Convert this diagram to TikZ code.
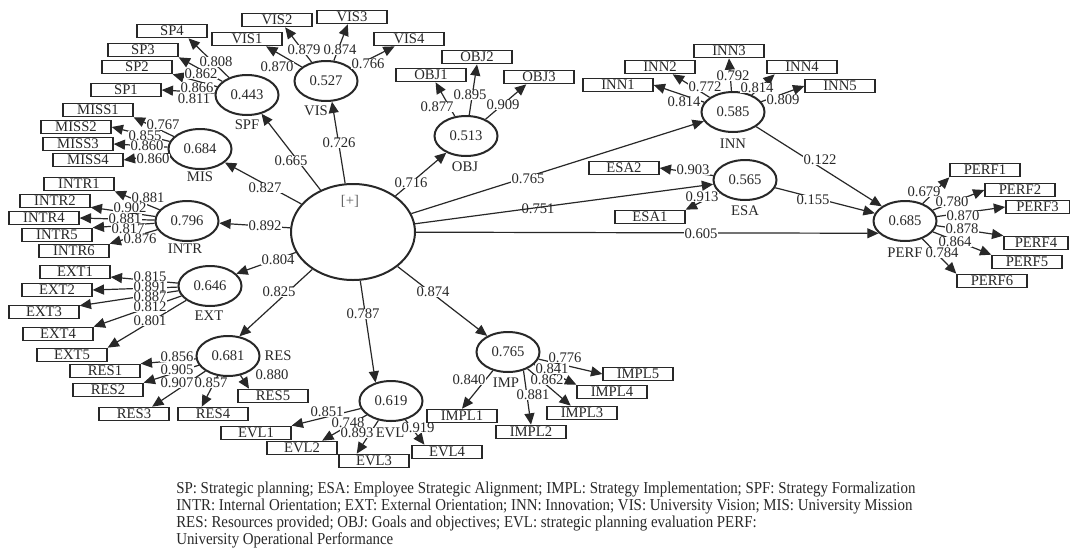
\documentclass[tikz,border=0pt]{standalone}
\usepackage{fontspec}
\setmainfont{Liberation Serif}
\usetikzlibrary{shapes.geometric,arrows.meta}
\definecolor{ink}{RGB}{40,40,40}
\definecolor{plusgray}{RGB}{100,100,100}
\begin{document}
\begin{tikzpicture}[x=0.75pt,y=-0.75pt,
  font=\fontsize{11}{13}\selectfont, text=ink,
  lat/.style={ellipse, draw=ink, line width=1.5pt, minimum width=47.25pt, minimum height=30pt, inner sep=0pt},
  cent/.style={ellipse, draw=ink, line width=1.5pt, minimum width=93pt, minimum height=72pt, inner sep=0pt},
  ind/.style={rectangle, draw=ink, line width=1pt, minimum width=52.5pt, minimum height=10pt, inner sep=0pt},
  arr/.style={draw=ink, line width=0.9pt, -{Triangle[length=8.5pt,width=7.5pt]}},
  lbl/.style={fill=white, inner sep=0.2pt},
  nolbl/.style={inner sep=0.2pt},
  nm/.style={inner sep=0pt}]
\fill[white] (0,0) rectangle (1070,557);
\useasboundingbox (0,0) rectangle (1070,557);

% central and latent constructs
\node[cent] (sp) at (353,232) {};
\node[nm, text=plusgray] (plus) at (350,201) {[+]};
\node[lat] (spf) at (247,95) {0.443};
\node[lat] (vis) at (326,81) {0.527};
\node[lat] (obj) at (466,136) {0.513};
\node[lat] (mis) at (200,149) {0.684};
\node[lat] (intr) at (187,221) {0.796};
\node[lat] (ext) at (210,286) {0.646};
\node[lat] (res) at (228,356) {0.681};
\node[lat] (evl) at (391,401) {0.619};
\node[lat] (imp) at (508,352) {0.765};
\node[lat] (inn) at (733,112) {0.585};
\node[lat] (esa) at (745,180) {0.565};
\node[lat] (perf) at (905,221) {0.685};

% construct names
\node[nm] (spfn) at (247,125) {SPF};
\node[nm] (visn) at (316,111) {VIS};
\node[nm] (objn) at (465,167) {OBJ};
\node[nm] (misn) at (200,177) {MIS};
\node[nm] (intrn) at (185,249) {INTR};
\node[nm] (extn) at (209,316) {EXT};
\node[nm] (resn) at (278,356) {RES};
\node[nm] (evln) at (390,433) {EVL};
\node[nm] (impn) at (506,383) {IMP};
\node[nm] (innn) at (733,144) {INN};
\node[nm] (esan) at (745,211) {ESA};
\node[nm] (perfn) at (905,253) {PERF};

% indicators
\node[ind] (sp1) at (126,90) {SP1};
\node[ind] (sp2) at (137,67) {SP2};
\node[ind] (sp3) at (143,50) {SP3};
\node[ind] (sp4) at (172,31) {SP4};
\node[ind] (vis1) at (247,39) {VIS1};
\node[ind] (vis2) at (277,20) {VIS2};
\node[ind] (vis3) at (352,17) {VIS3};
\node[ind] (vis4) at (409,39) {VIS4};
\node[ind] (obj1) at (431,75) {OBJ1};
\node[ind] (obj2) at (477,57) {OBJ2};
\node[ind] (obj3) at (539,77) {OBJ3};
\node[ind] (miss1) at (98,110) {MISS1};
\node[ind] (miss2) at (76,127) {MISS2};
\node[ind] (miss3) at (78,144) {MISS3};
\node[ind] (miss4) at (88,160) {MISS4};
\node[ind] (intr1) at (79,184) {INTR1};
\node[ind] (intr2) at (55,201) {INTR2};
\node[ind] (intr4) at (44,218) {INTR4};
\node[ind] (intr5) at (57,235) {INTR5};
\node[ind] (intr6) at (74,251) {INTR6};
\node[ind] (ext1) at (75,272) {EXT1};
\node[ind] (ext2) at (57,290) {EXT2};
\node[ind] (ext3) at (44,312) {EXT3};
\node[ind] (ext4) at (58,334) {EXT4};
\node[ind] (ext5) at (72,355) {EXT5};
\node[ind] (res1) at (105,371) {RES1};
\node[ind] (res2) at (108,390) {RES2};
\node[ind] (res3) at (134,414) {RES3};
\node[ind] (res4) at (213,414) {RES4};
\node[ind] (res5) at (273,396) {RES5};
\node[ind] (evl1) at (256,433) {EVL1};
\node[ind] (evl2) at (302,448) {EVL2};
\node[ind] (evl3) at (374,461) {EVL3};
\node[ind] (evl4) at (447,452) {EVL4};
\node[ind] (impl1) at (462,416) {IMPL1};
\node[ind] (impl2) at (531,432) {IMPL2};
\node[ind] (impl3) at (582,413) {IMPL3};
\node[ind] (impl4) at (612,392) {IMPL4};
\node[ind] (impl5) at (638,374) {IMPL5};
\node[ind] (inn1) at (618,85) {INN1};
\node[ind] (inn2) at (660,67) {INN2};
\node[ind] (inn3) at (729,51) {INN3};
\node[ind] (inn4) at (802,67) {INN4};
\node[ind] (inn5) at (840,86) {INN5};
\node[ind] (esa1) at (650,217) {ESA1};
\node[ind] (esa2) at (624,168) {ESA2};
\node[ind] (perf1) at (985,170) {PERF1};
\node[ind] (perf2) at (1020,190) {PERF2};
\node[ind, minimum width=47.5pt] (perf3) at (1037.5,207) {PERF3};
\node[ind, minimum width=48pt] (perf4) at (1036,243) {PERF4};
\node[ind] (perf5) at (1027,262) {PERF5};
\node[ind] (perf6) at (992,281) {PERF6};

% structural paths
\draw[arr] (sp) -- (spf);
\draw[arr] (sp) -- (vis.-74);
\draw[arr] (sp) -- (obj);
\draw[arr] (sp) -- (mis);
\draw[arr] (sp) -- (intr);
\draw[arr] (sp) -- (ext.25);
\draw[arr] (sp) -- (res.60);
\draw[arr] (sp) -- (evl.130);
\draw[arr] (sp) -- (imp);
\draw[arr] (sp) -- (inn);
\draw[arr] (sp) -- (perf.205);
\draw[arr] (inn) -- (perf);
\draw[arr] (esa) -- (perf);

% measurement paths
\draw[arr] (spf) -- (sp4.-24);
\draw[arr] (spf) -- (sp3.south east);
\draw[arr] (spf) -- (sp2.south east);
\draw[arr] (spf) -- (sp1.east);
\draw[arr] (mis) -- (miss1.south east);
\draw[arr] (mis) -- (miss2.east);
\draw[arr] (mis) -- (miss3.east);
\draw[arr] (mis) -- (miss4.east);
\draw[arr] (vis) -- (vis1.-21);
\draw[arr] (vis) -- (vis2.-42);
\draw[arr] (vis) -- (vis3.-120);
\draw[arr] (vis) -- (vis4.-153);
\draw[arr] (obj) -- (obj1.-58);
\draw[arr] (obj) -- (obj2.south);
\draw[arr] (obj) -- (obj3.-150);
\draw[arr] (inn) -- (inn1.east);
\draw[arr] (inn) -- (inn2.-30);
\draw[arr] (inn) -- (inn3.south);
\draw[arr] (inn) -- (inn4.-165);
\draw[arr] (inn) -- (inn5.west);
\draw[arr] (esa) -- (esa2.east);
\draw[arr] (esa) -- (esa1.north east);
\draw[arr] (perf) -- (perf1.south west);
\draw[arr] (perf) -- (perf2.west);
\draw[arr] (perf) -- (perf3.west);
\draw[arr] (perf) -- (perf4.north west);
\draw[arr] (perf) -- (perf5.north west);
\draw[arr] (perf) -- (perf6.north west);
\draw[arr] (intr) -- (intr1.south east);
\draw[arr] (intr) -- (intr2.-10);
\draw[arr] (intr) -- (intr4.east);
\draw[arr] (intr) -- (intr5.north east);
\draw[arr] (intr) -- (intr6.north east);
\draw[arr] (ext) -- (ext1.-8);
\draw[arr] (ext) -- (ext2.east);
\draw[arr] (ext) -- (ext3.10);
\draw[arr] (ext) -- (ext4.north east);
\draw[arr] (ext) -- (ext5.north east);
\draw[arr] (res) -- (res1.north east);
\draw[arr] (res) -- (res2.north east);
\draw[arr] (res) -- (res3.22);
\draw[arr] (res) -- (res4.147);
\draw[arr] (res) -- (res5.163);
\draw[arr] (evl) -- (evl1.north east);
\draw[arr] (evl) -- (evl2.20);
\draw[arr] (evl) -- (evl3.157);
\draw[arr] (evl) -- (evl4.162);
\draw[arr] (imp) -- (impl1.north);
\draw[arr] (imp.-50) -- (impl2.north);
\draw[arr] (imp) -- (impl3.147);
\draw[arr] (imp) -- (impl4.north west);
\draw[arr] (imp) -- (impl5.west);

% path coefficient labels
\node[lbl] (lspf) at (291,161) {0.665};
\node[lbl] (lvis) at (339,143) {0.726};
\node[lbl] (lobj) at (411,183) {0.716};
\node[lbl] (lmis) at (265,188) {0.827};
\node[lbl] (lintr) at (265,226) {0.892};
\node[lbl] (lext) at (278,260) {0.804};
\node[lbl] (lres) at (279,292) {0.825};
\node[lbl] (levl) at (363,314) {0.787};
\node[lbl] (limp) at (433,292) {0.874};
\node[lbl] (linn) at (528,179) {0.765};
\node[lbl] (lperf) at (701,234) {0.605};
\node[lbl] (linnp) at (820,160) {0.122};
\node[lbl] (lesap) at (813,200) {0.155};

% loading labels
\node[lbl] (lsp4) at (216,62) {0.808};
\node[lbl] (lsp3) at (201,74) {0.862};
\node[lbl] (lsp2) at (197,88) {0.866};
\node[lbl] (lsp1) at (194,99) {0.811};
\node[lbl] (lmiss1) at (163,125) {0.767};
\node[lbl] (lmiss2) at (145,136) {0.855};
\node[lbl] (lmiss3) at (147,146) {0.860};
\node[lbl] (lmiss4) at (153,159) {0.860};
\node[lbl] (lvis1) at (277,67) {0.870};
\node[lbl] (lvis2) at (304,50) {0.879};
\node[lbl] (lvis3) at (340,50) {0.874};
\node[lbl] (lvis4) at (368,64) {0.766};
\node[lbl] (lobj1) at (437,107) {0.877};
\node[lbl] (lobj2) at (470,95) {0.895};
\node[lbl] (lobj3) at (503,105) {0.909};
\node[lbl] (linn1) at (684,102) {0.814};
\node[lbl] (linn2) at (705,87) {0.772};
\node[lbl] (linn3) at (733,76) {0.792};
\node[lbl] (linn4) at (757,88) {0.814};
\node[lbl] (linn5) at (783,100) {0.809};
\node[lbl] (lesa2) at (693,170) {0.903};
\node[lbl] (lesa1) at (702,197) {0.913};
\node[lbl] (lperf1) at (924,192) {0.679};
\node[lbl] (lperf2) at (952,202) {0.780};
\node[lbl] (lperf3) at (963,216) {0.870};
\node[lbl] (lperf4) at (962,229) {0.878};
\node[lbl] (lperf5) at (955,242) {0.864};
\node[lbl] (lperf6) at (942,253) {0.784};
\node[lbl] (lintr1) at (148,198) {0.881};
\node[lbl] (lintr2) at (130,208) {0.902};
\node[lbl] (lintr4) at (125,219) {0.881};
\node[lbl] (lintr5) at (128,229) {0.817};
\node[lbl] (lintr6) at (140,239) {0.876};
\node[lbl] (lext1) at (150,277) {0.815};
\node[lbl] (lext2) at (150,287) {0.891};
\node[lbl] (lext3) at (150,297) {0.887};
\node[lbl] (lext4) at (150,307) {0.812};
\node[lbl] (lext5) at (150,321) {0.801};
\node[lbl] (lres1) at (177,357) {0.856};
\node[lbl] (lres2) at (177,370) {0.905};
\node[lbl] (lres3) at (177,383) {0.907};
\node[lbl] (lres4) at (211,383) {0.857};
\node[lbl] (lres5) at (272,375) {0.880};
\node[lbl] (levl1) at (327,412) {0.851};
\node[lbl] (levl2) at (348,423) {0.748};
\node[lbl] (levl3) at (357,433) {0.893};
\node[lbl] (levl4) at (418,428) {0.919};
\node[lbl] (limpl1) at (469,380) {0.840};
\node[lbl] (limpl2) at (533,395) {0.881};
\node[lbl] (limpl3) at (547,380) {0.862};
\node[lbl] (limpl4) at (552,369) {0.841};
\node[lbl] (limpl5) at (565,358) {0.776};

% ESA path drawn over its label
\node[nolbl] (lesa) at (538,209) {0.751};
\draw[arr] (sp) -- (esa);

% caption
\node[anchor=north west, align=left, inner sep=0pt,
      font=\fontsize{12.5}{12.75}\selectfont] (caption) at (176,482) {%
\scalebox{0.895}[1]{SP: Strategic planning; ESA: Employee Strategic Alignment; IMPL: Strategy Implementation; SPF: Strategy Formalization}\\
\scalebox{0.895}[1]{INTR: Internal Orientation; EXT: External Orientation; INN: Innovation; VIS: University Vision; MIS: University Mission}\\
\scalebox{0.895}[1]{RES: Resources provided; OBJ: Goals and objectives; EVL: strategic planning evaluation PERF:}\\
\scalebox{0.895}[1]{University Operational Performance}};
\end{tikzpicture}
\end{document}
